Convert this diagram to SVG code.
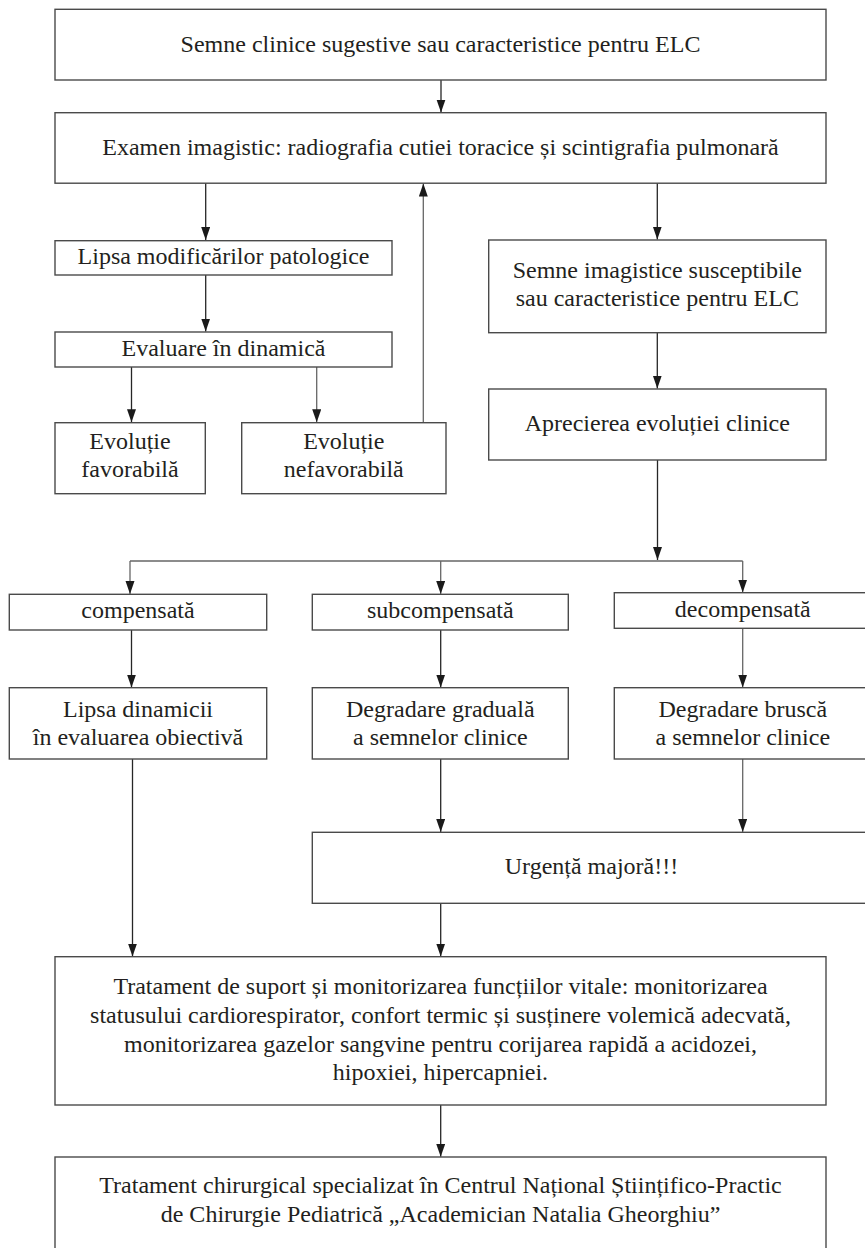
<svg xmlns="http://www.w3.org/2000/svg" width="865" height="1248" viewBox="0 0 865 1248">
<defs>
<style>
rect.box{fill:#fff;stroke:#4a4a4a;stroke-width:1.4}
text{font-family:"Liberation Serif","Times New Roman",serif;font-size:24px;fill:#231f20;text-anchor:middle}
.c line,.c path{stroke:#262626;stroke-width:1.3;fill:none}
.c .g{stroke:#666}
</style>
<marker id="ah" markerUnits="userSpaceOnUse" markerWidth="14" markerHeight="10" refX="13" refY="4.5" orient="auto">
<path d="M0,0 L13,4.5 L0,9 z" fill="#1a1a1a"/>
</marker>
</defs>
<rect width="865" height="1248" fill="#fff"/>

<g class="c" id="connectors">
<line x1="441" y1="80" x2="441" y2="112.5" marker-end="url(#ah)"/>
<line x1="205.7" y1="183" x2="205.7" y2="240" marker-end="url(#ah)"/>
<line x1="205.7" y1="275" x2="205.7" y2="331.5" marker-end="url(#ah)"/>
<line x1="131.5" y1="367" x2="131.5" y2="422.3" marker-end="url(#ah)"/>
<line x1="316.7" y1="367" x2="316.7" y2="422.3" marker-end="url(#ah)" class="g"/>
<line x1="423.3" y1="422.7" x2="423.3" y2="183.5" marker-end="url(#ah)" class="g"/>
<line x1="657.3" y1="183" x2="657.3" y2="239.5" marker-end="url(#ah)"/>
<line x1="657.3" y1="333" x2="657.3" y2="388.5" marker-end="url(#ah)"/>
<line x1="657.5" y1="460" x2="657.5" y2="560" marker-end="url(#ah)"/>
<path d="M130,561 L742.7,561" class="g"/>
<line x1="130" y1="561" x2="130" y2="594" marker-end="url(#ah)" class="g"/>
<line x1="440.7" y1="561" x2="440.7" y2="594" marker-end="url(#ah)" class="g"/>
<line x1="742.7" y1="561" x2="742.7" y2="592.5" marker-end="url(#ah)" class="g"/>
<line x1="131.5" y1="630" x2="131.5" y2="687.5" marker-end="url(#ah)"/>
<line x1="440.7" y1="630" x2="440.7" y2="687.5" marker-end="url(#ah)"/>
<line x1="742.7" y1="628.3" x2="742.7" y2="687.5" marker-end="url(#ah)" class="g"/>
<line x1="132.5" y1="759" x2="132.5" y2="956.5" marker-end="url(#ah)"/>
<line x1="440.7" y1="759" x2="440.7" y2="832" marker-end="url(#ah)"/>
<line x1="742.7" y1="759" x2="742.7" y2="832" marker-end="url(#ah)" class="g"/>
<line x1="440.7" y1="903.3" x2="440.7" y2="956.5" marker-end="url(#ah)"/>
<line x1="440.7" y1="1105" x2="440.7" y2="1156.8" marker-end="url(#ah)"/>
</g>

<g id="n1"><rect class="box" x="55" y="9.3" width="771" height="70.7"/><text x="440.5" y="52">Semne clinice sugestive sau caracteristice pentru ELC</text></g>
<g id="n2"><rect class="box" x="55" y="112.7" width="771" height="70.5"/><text x="440.5" y="155">Examen imagistic: radiografia cutiei toracice și scintigrafia pulmonară</text></g>
<g id="n3"><rect class="box" x="55" y="240.7" width="337" height="34.3"/><text x="223.5" y="264">Lipsa modificărilor patologice</text></g>
<g id="n4"><rect class="box" x="55" y="332" width="337" height="35"/><text x="223.5" y="356">Evaluare în dinamică</text></g>
<g id="n5"><rect class="box" x="55" y="422.7" width="150.3" height="71"/><text x="130" y="449">Evoluție</text><text x="130" y="477">favorabilă</text></g>
<g id="n6"><rect class="box" x="241.7" y="422.7" width="204.3" height="71"/><text x="343.8" y="449">Evoluție</text><text x="343.8" y="477">nefavorabilă</text></g>
<g id="n7"><rect class="box" x="488.7" y="240" width="337.3" height="92.7"/><text x="657.3" y="278">Semne imagistice susceptibile</text><text x="657.3" y="306">sau caracteristice pentru ELC</text></g>
<g id="n8"><rect class="box" x="488.7" y="389" width="337.3" height="71"/><text x="657.3" y="431">Aprecierea evoluției clinice</text></g>
<g id="n9"><rect class="box" x="9.3" y="594.3" width="257.4" height="35.7"/><text x="138" y="618">compensată</text></g>
<g id="n10"><rect class="box" x="312.3" y="594.3" width="256" height="35.7"/><text x="440.3" y="618">subcompensată</text></g>
<g id="n11"><rect class="box" x="614.3" y="592.7" width="257" height="35.6"/><text x="742.8" y="617">decompensată</text></g>
<g id="n12"><rect class="box" x="9.3" y="687.7" width="257.4" height="71.3"/><text x="138" y="716.5">Lipsa dinamicii</text><text x="138" y="744.5">în evaluarea obiectivă</text></g>
<g id="n13"><rect class="box" x="312.3" y="687.7" width="256" height="71.3"/><text x="440.3" y="716.5">Degradare graduală</text><text x="440.3" y="744.5">a semnelor clinice</text></g>
<g id="n14"><rect class="box" x="614.3" y="687.7" width="257" height="71.3"/><text x="742.8" y="716.5">Degradare bruscă</text><text x="742.8" y="744.5">a semnelor clinice</text></g>
<g id="n15"><rect class="box" x="312.3" y="832.3" width="560" height="71"/><text x="591.5" y="874">Urgență majoră!!!</text></g>
<g id="n16"><rect class="box" x="55" y="956.7" width="771" height="148.3"/>
<text x="440.5" y="994">Tratament de suport și monitorizarea funcțiilor vitale: monitorizarea</text>
<text x="440.5" y="1023">statusului cardiorespirator, confort termic și susținere volemică adecvată,</text>
<text x="440.5" y="1052">monitorizarea gazelor sangvine pentru corijarea rapidă a acidozei,</text>
<text x="440.5" y="1080">hipoxiei, hipercapniei.</text></g>
<g id="n17"><rect class="box" x="55" y="1157" width="771" height="110"/>
<text x="440.5" y="1193">Tratament chirurgical specializat în Centrul Național Științifico-Practic</text>
<text x="440.5" y="1222">de Chirurgie Pediatrică „Academician Natalia Gheorghiu”</text></g>
</svg>
